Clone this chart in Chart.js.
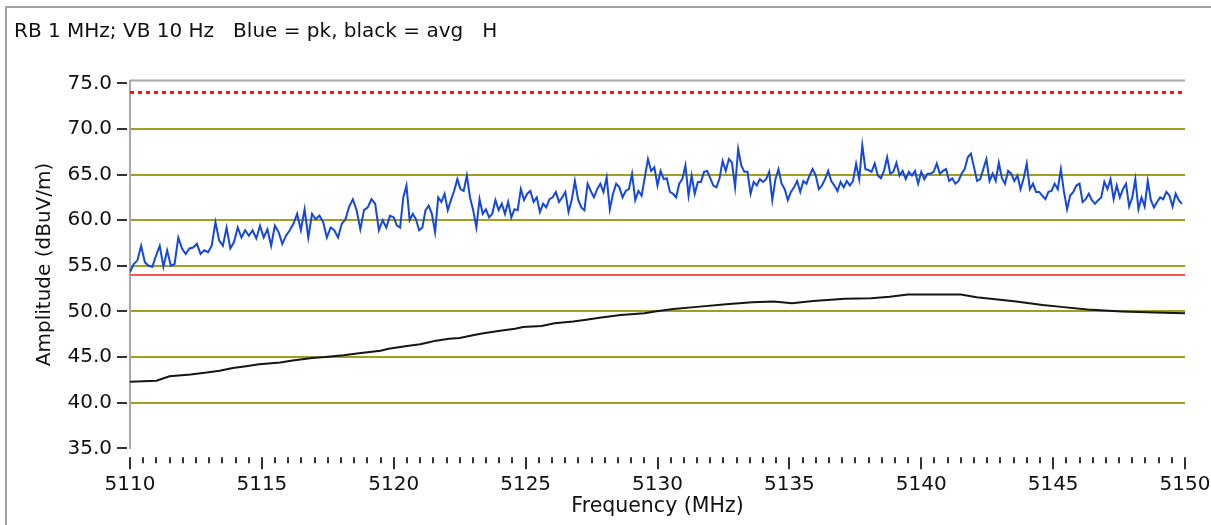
<!DOCTYPE html>
<html>
<head>
<meta charset="utf-8">
<script src="https://cdn.jsdelivr.net/npm/chart.js@4.4.1/dist/chart.umd.min.js"></script>
<style>
    html, body { margin: 0; padding: 0; background: #fff; }
    #wrap { position: relative; width: 1211px; height: 525px; overflow: hidden; }
    #frame { position: absolute; left: 5px; top: 6px; width: 1300px; height: 600px;
             border-left: 2px solid #a3a3a3; border-top: 2px solid #a3a3a3; }
    #caption { position: absolute; left: 14px; top: 18px; font: 20px "DejaVu Sans", sans-serif;
               line-height: 24px; white-space: pre; color: #111; }
    canvas { position: absolute; left: 0; top: 0; }
</style>
</head>
<body>
<div id="wrap">
    <div id="frame"></div>
    <canvas id="spectrum_chart" width="1211" height="525"></canvas>
    <div id="caption">RB 1 MHz; VB 10 Hz   Blue = pk, black = avg   H</div>
</div>
<script>
/** Sweep values **/
const freq_min = 5110
const freq_max = 5150
const freq_labels = [5110, 5115, 5120, 5125, 5130, 5135, 5140, 5145, 5150]
const amp_labels = [35, 40, 45, 50, 55, 60, 65, 70, 75]

// peak (blue) trace, one array per 10 MHz slice of the sweep
const peak_5110 = [54.3, 55.2, 55.6, 57.2, 55.4, 55.0, 54.9, 56.1, 57.2, 54.9,
    56.7, 55.0, 55.2, 58.1, 56.9, 56.3, 56.9, 57.0, 57.4, 56.3,
    56.7, 56.5, 57.2, 59.8, 57.8, 57.2, 59.2, 56.9, 57.6, 59.2,
    58.1, 58.9, 58.3, 58.9, 58.0, 59.4, 58.1, 59.0, 57.2, 59.4,
    58.7, 57.4, 58.3, 58.9, 59.6, 60.7, 58.9, 61.2, 58.1, 60.7,
    60.1, 60.5, 59.8, 58.1, 59.2, 58.9, 58.1, 59.6, 60.1, 61.5,
    62.3, 61.1, 59.0, 61.1, 61.4, 62.3, 61.8, 58.9, 60.0, 59.2,
    60.5]
const peak_5120 = [60.3, 59.4, 59.2, 62.5, 63.8, 60.0, 60.7, 60.1, 58.9,
    59.2, 61.1, 61.6, 60.7, 58.7, 62.5, 62.0, 62.9, 61.1, 62.2,
    63.2, 64.5, 63.4, 63.2, 64.9, 62.5, 61.1, 59.2, 62.3, 60.7,
    61.2, 60.3, 60.7, 62.2, 61.1, 61.8, 60.7, 62.0, 60.3, 61.2,
    61.1, 63.4, 62.2, 62.9, 63.2, 62.0, 62.5, 60.9, 61.8, 61.4,
    62.3, 62.5, 63.1, 62.0, 62.5, 63.1, 60.9, 62.2, 64.3, 62.3,
    61.4, 61.1, 64.0, 63.2, 62.5, 63.4, 64.0, 63.1, 64.7, 61.2,
    62.9, 64.0, 63.6, 62.5, 63.2, 63.4, 65.1, 62.2, 63.2, 62.7,
    64.7, 66.7, 65.4, 65.8]
const peak_5130 = [63.8, 65.4, 64.5, 64.6, 63.1, 62.9, 62.5, 64.0, 64.5, 66.0,
    62.7, 64.9, 62.9, 64.2, 64.2, 65.3, 65.4, 64.6, 63.8, 63.6,
    64.6, 66.5, 65.4, 66.7, 66.3, 63.6, 67.8, 66.0, 65.3, 65.3,
    62.9, 64.2, 63.8, 64.5, 64.2, 64.5, 65.3, 62.2, 64.5, 65.6,
    64.0, 63.4, 62.2, 63.1, 63.6, 64.3, 63.1, 64.3, 64.0, 64.9,
    65.6, 64.9, 63.4, 63.8, 64.5, 65.4, 64.3, 63.8, 63.2, 64.2,
    63.6, 64.3, 63.8, 64.3, 66.2, 64.5, 68.2, 65.6, 65.5, 65.3,
    66.2, 64.9, 64.6, 65.4, 66.9, 65.1, 65.3, 66.3, 64.9, 65.4,
    64.5, 65.3, 64.9, 65.4, 64.0]
const peak_5140 = [65.3, 64.5, 65.1, 65.1, 65.3, 66.2, 65.1, 65.4, 65.6, 64.3,
    64.6, 64.0, 64.3, 65.1, 65.6, 66.9, 67.3, 65.8, 64.3, 64.5,
    65.6, 66.7, 64.3, 65.1, 64.3, 66.3, 64.6, 64.0, 65.4, 65.1,
    64.3, 64.9, 63.4, 64.6, 66.2, 63.4, 64.0, 63.1, 63.1, 62.7,
    62.3, 63.1, 63.2, 64.0, 63.4, 65.6, 63.1, 61.2, 62.7, 63.1,
    63.8, 64.0, 62.0, 62.3, 62.9, 62.2, 61.8, 62.2, 62.5, 64.2,
    63.4, 64.5, 62.3, 63.8, 62.5, 63.4, 64.0, 61.5, 62.5, 64.5,
    61.2, 62.5, 61.5, 64.3, 62.2, 61.4, 62.0, 62.5, 62.3, 63.1,
    62.7, 61.5, 62.9, 62.2, 61.8]

// average (black) trace
const avg_freq = [5110.0, 5111.0, 5111.5, 5112.3, 5112.9, 5113.4, 5113.9, 5114.4, 5114.9, 5115.7,
    5116.1, 5116.9, 5117.4, 5118.1, 5118.6, 5119.5, 5119.8, 5120.5, 5121.0, 5121.3,
    5121.6, 5122.1, 5122.5, 5123.0, 5123.4, 5124.1, 5124.6, 5124.9, 5125.6, 5126.1,
    5126.8, 5127.3, 5127.8, 5128.6, 5129.5, 5129.9, 5130.6, 5131.5, 5132.6, 5133.6,
    5134.4, 5135.1, 5135.9, 5137.1, 5138.1, 5138.8, 5139.5, 5140.7, 5141.5, 5142.1,
    5142.9, 5143.6, 5144.1, 5144.6, 5145.3, 5146.3, 5147.6, 5149.2, 5150.0]
const avg_values = [42.3, 42.4, 42.9, 43.1, 43.3, 43.5, 43.8, 44.0, 44.2, 44.4,
    44.6, 44.9, 45.0, 45.2, 45.4, 45.7, 45.9, 46.2, 46.4, 46.6,
    46.8, 47.0, 47.1, 47.4, 47.6, 47.9, 48.1, 48.3, 48.4, 48.7,
    48.9, 49.1, 49.3, 49.6, 49.8, 50.0, 50.26, 50.5, 50.8, 51.0,
    51.1, 50.9, 51.15, 51.4, 51.45, 51.6, 51.85, 51.85, 51.85, 51.55,
    51.3, 51.1, 50.9, 50.7, 50.5, 50.2, 50.0, 49.85, 49.8]

// limit lines
const limit_freq = [5110, 5150]
const limit_peak = [74, 74]
const limit_avg = [54, 54]

/** Helpers **/
const font_family = '"DejaVu Sans", sans-serif'
const text_color = '#111'

function slice_points(start, values) {
    var pts = []
    for (var i = 0; i < values.length; i++) {
        pts.push({x: start + i * 10 / values.length, y: values[i]})
    }
    return pts
}

function pair_points(xs, ys) {
    return xs.map(function (x, i) { return {x: x, y: ys[i]} })
}

const peak_points = slice_points(5110, peak_5110).concat(
    slice_points(5120, peak_5120),
    slice_points(5130, peak_5130),
    slice_points(5140, peak_5140))

// minor tick every 0.5 MHz, every 2.5 dB
var x_ticks = []
for (var f = freq_min; f <= freq_max; f += 0.5) x_ticks.push({value: f})
var y_ticks = []
for (var a = 35; a <= 75; a += 2.5) y_ticks.push({value: a})

/** Frame line on top + little tick marks like the analyser plot **/
const frame_ticks = {
    id: 'frame_ticks',
    beforeDatasetsDraw(chart) {
        const ctx = chart.ctx, area = chart.chartArea
        ctx.save()
        ctx.strokeStyle = '#a8a8a8'
        ctx.lineWidth = 2
        ctx.beginPath()
        ctx.moveTo(area.left, area.top)
        ctx.lineTo(area.right, area.top)
        ctx.stroke()
        ctx.restore()
    },
    afterDraw(chart) {
        const ctx = chart.ctx, area = chart.chartArea
        const xs = chart.scales.x, ys = chart.scales.y
        ctx.save()
        ctx.strokeStyle = '#333'
        ctx.lineWidth = 2
        amp_labels.forEach(function (v) {
            const py = Math.round(ys.getPixelForValue(v))
            ctx.beginPath()
            ctx.moveTo(area.left - 13, py)
            ctx.lineTo(area.left - 3, py)
            ctx.stroke()
        })
        xs.ticks.forEach(function (t) {
            const px = Math.round(xs.getPixelForValue(t.value))
            const major = freq_labels.includes(t.value)
            ctx.beginPath()
            ctx.moveTo(px, area.bottom + 9)
            ctx.lineTo(px, area.bottom + (major ? 21 : 15))
            ctx.stroke()
        })
        ctx.restore()
    }
}

var spectrum_chart = new Chart(
    document.getElementById('spectrum_chart').getContext('2d'),
    config = {
        type: 'line',
        data: {
            datasets: [{
                data: pair_points(limit_freq, limit_peak),
                borderColor: '#ff1010',
                borderWidth: 3,
                borderDash: [4, 4],
            }, {
                data: pair_points(limit_freq, limit_avg),
                borderColor: 'rgb(255, 80, 80)',
                borderWidth: 2,
            }, {
                data: pair_points(avg_freq, avg_values),
                borderColor: '#151515',
                borderWidth: 2,
            }, {
                data: peak_points,
                borderColor: 'rgb(20, 70, 225)',
                borderWidth: 2,
            },
            ]
        },
        options: {
            responsive: false,
            animation: false,
            devicePixelRatio: 1,
            layout: {
                padding: {left: 0, right: 26, top: 80.6, bottom: 0}
            },
            elements: {
                point: {radius: 0},
                line: {tension: 0, fill: false}
            },
            plugins: {
                legend: {display: false},
                tooltip: {enabled: false},
            },
            scales: {
                x: {
                    type: 'linear',
                    min: freq_min,
                    max: freq_max,
                    afterBuildTicks: function (s) { s.ticks = x_ticks },
                    afterFit: function (s) {
                        s.height = 525 - 448.3
                        s.paddingLeft = 0
                        s.paddingRight = 0
                    },
                    grid: {display: false, drawTicks: false},
                    border: {display: false},
                    ticks: {
                        autoSkip: false,
                        maxRotation: 0,
                        padding: 24,
                        color: text_color,
                        font: {family: font_family, size: 20},
                        callback: function (v) { return freq_labels.includes(v) ? String(v) : '' }
                    },
                    title: {
                        display: true,
                        text: 'Frequency (MHz)',
                        color: text_color,
                        font: {family: font_family, size: 20.5},
                        padding: {top: 0, bottom: 6}
                    }
                },
                y: {
                    min: 35,
                    max: 75.3,
                    afterBuildTicks: function (s) { s.ticks = y_ticks },
                    afterFit: function (s) { s.width = 130 },
                    grid: {
                        drawTicks: false,
                        color: function (c) {
                            const v = c.tick ? c.tick.value : 0
                            if (v === 35 || v === 75) return 'rgba(0,0,0,0)'
                            return v % 5 === 0 ? 'rgb(160, 160, 30)' : '#eeeeee'
                        },
                        lineWidth: 2,
                    },
                    border: {display: true, color: '#a8a8a8', width: 2},
                    ticks: {
                        padding: 18,
                        color: text_color,
                        font: {family: font_family, size: 20},
                        callback: function (v) { return v % 5 === 0 ? v.toFixed(1) : '' }
                    },
                    title: {
                        display: true,
                        text: 'Amplitude (dBuV/m)',
                        color: text_color,
                        font: {family: font_family, size: 20},
                        padding: {top: 33, bottom: 0}
                    }
                }
            },
        },
        plugins: [frame_ticks]
    }
);
</script>
</body>
</html>
